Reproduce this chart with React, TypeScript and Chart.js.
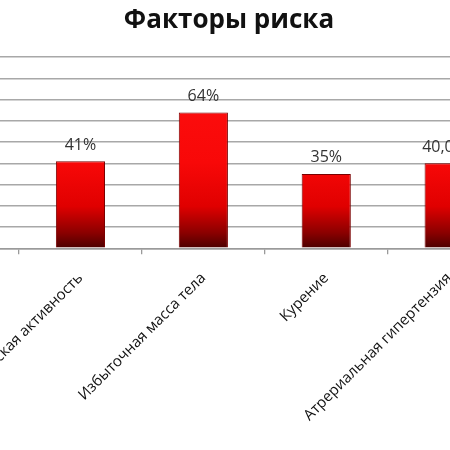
import React, { useEffect, useRef } from "react";
import { Chart, registerables } from "chart.js";

Chart.register(...registerables);

// The reference is a crop: the first category lies off-canvas (unknown name/value).
const categories = [
  "",
  "Низкая физическая активность",
  "Избыточная масса тела",
  "Курение",
  "Атрериальная гипертензия",
];
const values: (number | null)[] = [null, 41, 64, 35, 40];
const valueLabels = ["", "41%", "64%", "35%", "40,00%"];
const yMin = 0;
const yMax = 90;
const yStep = 10;

const FONT = "'Open Sans', 'DejaVu Sans', sans-serif";

export default function App() {
  const ref = useRef<HTMLCanvasElement | null>(null);

  useEffect(() => {
    if (!ref.current) return;
    const valueLabelPlugin = {
      id: "valueLabels",
      afterDatasetsDraw(chart: any) {
        const ctx = chart.ctx;
        const meta = chart.getDatasetMeta(0);
        ctx.save();
        ctx.font = `16px ${FONT}`;
        ctx.fillStyle = "#333333";
        ctx.textAlign = "center";
        ctx.textBaseline = "alphabetic";
        meta.data.forEach((bar: any, i: number) => {
          if (values[i] == null) return;
          ctx.fillText(valueLabels[i], bar.x, bar.y - 11.5);
        });
        ctx.restore();
      },
    };

    const chart = new Chart(ref.current, {
      type: "bar",
      data: {
        labels: categories,
        datasets: [
          {
            data: values,
            backgroundColor: (c: any) => {
              const area = c.chart.chartArea;
              if (!area) return "#e00000";
              const g = c.chart.ctx.createLinearGradient(0, area.bottom, 0, area.top);
              g.addColorStop(0, "#4a0000");
              g.addColorStop(0.08, "#8a0000");
              g.addColorStop(0.22, "#e00000");
              g.addColorStop(0.45, "#f80808");
              g.addColorStop(1, "#ff1010");
              return g;
            },
            borderColor: "#7a0000",
            borderWidth: 1,
            categoryPercentage: 0.8,
            barPercentage: 0.5,
          },
        ],
      },
      options: {
        responsive: false,
        animation: false,
        layout: { padding: 0 },
        plugins: {
          legend: { display: false },
          tooltip: { enabled: false },
          title: {
            display: true,
            text: "Факторы риска",
            color: "#111111",
            font: { family: FONT, size: 26, weight: "bold" },
            padding: { top: 5, bottom: 21 },
          },
        },
        scales: {
          x: {
            grid: {
              drawOnChartArea: false,
              drawTicks: true,
              tickLength: 6,
              color: "#9a9a9a",
              lineWidth: 1.3,
            },
            border: { display: true, color: "#9a9a9a", width: 1.5 },
            ticks: {
              autoSkip: false,
              minRotation: 45,
              maxRotation: 45,
              padding: 15,
              color: "#111111",
              font: { family: FONT, size: 15 },
            },
            afterFit: (s: any) => {
              s.height = 201.7;
            },
          },
          y: {
            min: yMin,
            max: yMax,
            ticks: { display: false, stepSize: yStep },
            grid: { drawTicks: false, color: "#a8a8a8", lineWidth: 1.5 },
            border: { display: false },
            afterFit: (s: any) => {
              s.width = 16.1;
            },
          },
          yRight: {
            type: "linear",
            position: "right",
            min: yMin,
            max: yMax,
            ticks: { display: false },
            grid: { drawOnChartArea: false, drawTicks: false },
            border: { display: false },
            afterFit: (s: any) => {
              s.width = 67.4;
            },
          },
        },
      },
      plugins: [valueLabelPlugin],
    });
    return () => chart.destroy();
  }, []);

  return (
    <div
      style={{
        position: "fixed",
        left: 0,
        top: 0,
        width: 450,
        height: 450,
        overflow: "hidden",
        background: "#ffffff",
      }}
    >
      <canvas
        ref={ref}
        width={698}
        height={450}
        style={{ position: "absolute", left: -120, top: 0, width: 698, height: 450 }}
      />
    </div>
  );
}
